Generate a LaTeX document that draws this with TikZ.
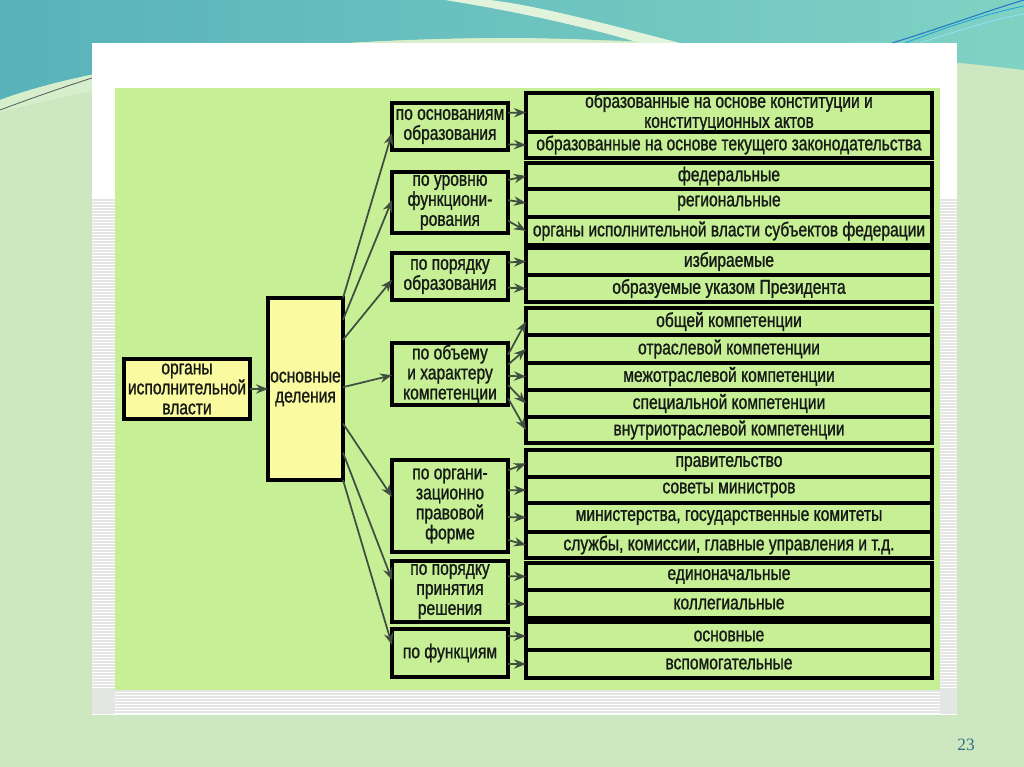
\documentclass[tikz,border=0pt]{standalone}
\usepackage{fontspec}
\setmainfont{Liberation Sans}
\newfontfamily\condfont[FakeStretch=0.78,FakeBold=1.1]{Liberation Sans}
\newfontfamily\numfont{Liberation Serif}
\usetikzlibrary{arrows.meta,calc}
\definecolor{slidebg}{RGB}{205,232,193}
\definecolor{tealA}{RGB}{88,178,186}
\definecolor{tealB}{RGB}{128,210,196}
\definecolor{paleg}{RGB}{214,238,204}
\definecolor{diag}{RGB}{198,239,150}
\definecolor{yelf}{RGB}{250,250,160}
\definecolor{arrc}{RGB}{64,78,64}
\definecolor{txtc}{RGB}{22,26,22}
\definecolor{stripec}{RGB}{228,230,228}
\definecolor{numc}{RGB}{50,110,130}
\definecolor{bluel}{RGB}{40,120,200}
\tikzset{
  boxtext/.style={font=\condfont\fontsize{15}{15}\selectfont, text=txtc, align=center, inner sep=0pt, outer sep=0pt},
  yelbox/.style={boxtext, draw=black, line width=2.8pt, fill=yelf},
  catbox/.style={boxtext, draw=black, line width=2.8pt, fill=diag},
  rowbox/.style={boxtext, draw=black, line width=2.6pt, fill=diag},
  grpbox/.style={draw=black, line width=3.4pt},
  arr/.style={draw=arrc, line width=1.3pt, -{Stealth[length=9pt,width=7pt]}},
}
% #1 style, #2 name, #3 x1, #4 y1, #5 x2, #6 y2, #7 text
\newcommand\mkbox[7]{\node[#1, minimum width={(#5-#3)*0.75pt}, minimum height={(#6-#4)*0.75pt}] (#2) at ({(#3+#5)/2},{(#4+#6)/2}) {#7};}
\begin{document}
\begin{tikzpicture}[x=0.75pt,y=-0.75pt]
\useasboundingbox (0,0) rectangle (1024,767);
% slide background
\fill[slidebg] (0,0) rectangle (1024,767);
\shade[left color=tealA, right color=tealB] (0,0) -- (1024,0) -- (1024,70)
  .. controls (900,55) and (700,40) .. (500,38) .. controls (250,40) and (80,70) .. (0,100) -- cycle;
\fill[paleg] (0,100) .. controls (80,70) and (250,40) .. (500,38) .. controls (560,38) and (600,40) .. (640,43)
  -- (640,50) .. controls (450,42) and (200,60) .. (0,112) -- cycle;
\draw[gray!70!black, line width=0.6pt] (0,110) .. controls (40,95) and (70,85) .. (92,78);
\fill[paleg!70!white] (445,0) .. controls (520,12) and (590,28) .. (640,43) -- (680,43) .. controls (610,25) and (540,6) .. (490,0) -- cycle;
\draw[bluel, line width=0.8pt] (892,43) .. controls (950,25) and (990,10) .. (1024,0);
\draw[bluel!70!cyan, line width=0.6pt] (905,43) .. controls (960,22) and (995,12) .. (1024,6);
\draw[white!60!cyan, line width=0.6pt] (920,43) .. controls (965,28) and (1000,18) .. (1024,14);
% white picture frame
\fill[white] (92,43) rectangle (957,715);
\foreach \yy in {200,203,...,714} {
  \draw[stripec, line width=0.9pt] (92,\yy) -- (115,\yy);
  \draw[stripec, line width=0.9pt] (940,\yy) -- (957,\yy);
}
\foreach \yy in {691,694,...,714} {
  \draw[stripec, line width=0.9pt] (92,\yy) -- (957,\yy);
}
\fill[diag] (115,88) rectangle (940,690);
% left nodes
\mkbox{yelbox}{org}{124}{359}{250}{419}{органы\\исполнительной\\власти}
\mkbox{yelbox}{osn}{268}{298}{343}{480}{основные\\деления}
% category nodes
\mkbox{catbox}{c1}{392}{103}{508}{150}{по основаниям\\образования}
\mkbox{catbox}{c2}{392}{172}{508}{233}{по уровню\\функциони-\\рования}
\mkbox{catbox}{c3}{392}{253}{508}{300}{по порядку\\образования}
\mkbox{catbox}{c4}{392}{343}{508}{405}{по объему\\и характеру\\компетенции}
\mkbox{catbox}{c5}{392}{460}{508}{552}{по органи-\\зационно\\правовой\\форме}
\mkbox{catbox}{c6}{392}{561}{508}{622}{по порядку\\принятия\\решения}
\mkbox{catbox}{c7}{392}{629}{508}{677}{по функциям}
% rows
\mkbox{rowbox}{r11}{526}{93}{932}{132}{образованные на основе конституции и\\конституционных актов}
\mkbox{rowbox}{r12}{526}{132}{932}{158}{образованные на основе текущего законодательства}
\draw[grpbox] (526,93) rectangle (932,158);
\mkbox{rowbox}{r21}{526}{163}{932}{189}{федеральные}
\mkbox{rowbox}{r22}{526}{189}{932}{217}{региональные}
\mkbox{rowbox}{r23}{526}{217}{932}{245}{органы исполнительной власти субъектов федерации}
\draw[grpbox] (526,163) rectangle (932,245);
\mkbox{rowbox}{r31}{526}{248}{932}{275}{избираемые}
\mkbox{rowbox}{r32}{526}{275}{932}{302}{образуемые указом Президента}
\draw[grpbox] (526,248) rectangle (932,302);
\mkbox{rowbox}{r41}{526}{308}{932}{335}{общей компетенции}
\mkbox{rowbox}{r42}{526}{335}{932}{363}{отраслевой компетенции}
\mkbox{rowbox}{r43}{526}{363}{932}{390}{межотраслевой компетенции}
\mkbox{rowbox}{r44}{526}{390}{932}{417}{специальной компетенции}
\mkbox{rowbox}{r45}{526}{417}{932}{443}{внутриотраслевой компетенции}
\draw[grpbox] (526,308) rectangle (932,443);
\mkbox{rowbox}{r51}{526}{450}{932}{477}{правительство}
\mkbox{rowbox}{r52}{526}{477}{932}{503}{советы министров}
\mkbox{rowbox}{r53}{526}{503}{932}{532}{министерства, государственные комитеты}
\mkbox{rowbox}{r54}{526}{532}{932}{558}{службы, комиссии, главные управления и т.д.}
\draw[grpbox] (526,450) rectangle (932,558);
\mkbox{rowbox}{r61}{526}{563}{932}{590}{единоначальные}
\mkbox{rowbox}{r62}{526}{590}{932}{618}{коллегиальные}
\draw[grpbox] (526,563) rectangle (932,618);
\mkbox{rowbox}{r71}{526}{622}{932}{650}{основные}
\mkbox{rowbox}{r72}{526}{650}{932}{678}{вспомогательные}
\draw[grpbox] (526,622) rectangle (932,678);
% arrows: main
\draw[arr] (org) -- (org -| osn.west);
\draw[arr] (osn.north east) -- ($(c1.north west)!0.64!(c1.south west)$);
\draw[arr] ($(osn.north east)!0.12!(osn.south east)$) -- ($(c2.north west)!0.46!(c2.south west)$);
\draw[arr] ($(osn.north east)!0.23!(osn.south east)$) -- ($(c3.north west)!0.57!(c3.south west)$);
\draw[arr] ($(osn.north east)!0.49!(osn.south east)$) -- ($(c4.north west)!0.52!(c4.south west)$);
\draw[arr] ($(osn.north east)!0.69!(osn.south east)$) -- ($(c5.north west)!0.40!(c5.south west)$);
\draw[arr] ($(osn.north east)!0.85!(osn.south east)$) -- ($(c6.north west)!0.31!(c6.south west)$);
\draw[arr] (osn.south east) -- ($(c7.north west)!0.33!(c7.south west)$);
% arrows: categories to rows
\draw[arr] ($(c1.north east)!0.21!(c1.south east)$) -- (r11.west);
\draw[arr] ($(c1.north east)!0.88!(c1.south east)$) -- (r12.west);
\draw[arr] ($(c2.north east)!0.13!(c2.south east)$) -- (r21.west);
\draw[arr] ($(c2.north east)!0.46!(c2.south east)$) -- (r22.west);
\draw[arr] ($(c2.north east)!0.80!(c2.south east)$) -- (r23.west);
\draw[arr] ($(c3.north east)!0.20!(c3.south east)$) -- (r31.west);
\draw[arr] ($(c3.north east)!0.74!(c3.south east)$) -- (r32.west);
\draw[arr] ($(c4.north east)!0.19!(c4.south east)$) -- (r41.west);
\draw[arr] ($(c4.north east)!0.35!(c4.south east)$) -- (r42.west);
\draw[arr] ($(c4.north east)!0.53!(c4.south east)$) -- (r43.west);
\draw[arr] ($(c4.north east)!0.68!(c4.south east)$) -- (r44.west);
\draw[arr] ($(c4.north east)!0.89!(c4.south east)$) -- (r45.west);
\draw[arr] ($(c5.north east)!0.11!(c5.south east)$) -- (r51.west);
\draw[arr] ($(c5.north east)!0.33!(c5.south east)$) -- (r52.west);
\draw[arr] ($(c5.north east)!0.62!(c5.south east)$) -- (r53.west);
\draw[arr] ($(c5.north east)!0.87!(c5.south east)$) -- (r54.west);
\draw[arr] ($(c6.north east)!0.25!(c6.south east)$) -- (r61.west);
\draw[arr] ($(c6.north east)!0.70!(c6.south east)$) -- (r62.west);
\draw[arr] ($(c7.north east)!0.15!(c7.south east)$) -- (r71.west);
\draw[arr] ($(c7.north east)!0.73!(c7.south east)$) -- (r72.west);
% page number
\node[font=\numfont\fontsize{13}{13}\selectfont, text=numc, inner sep=0pt] (pg) at (966,745) {23};
\end{tikzpicture}
\end{document}
